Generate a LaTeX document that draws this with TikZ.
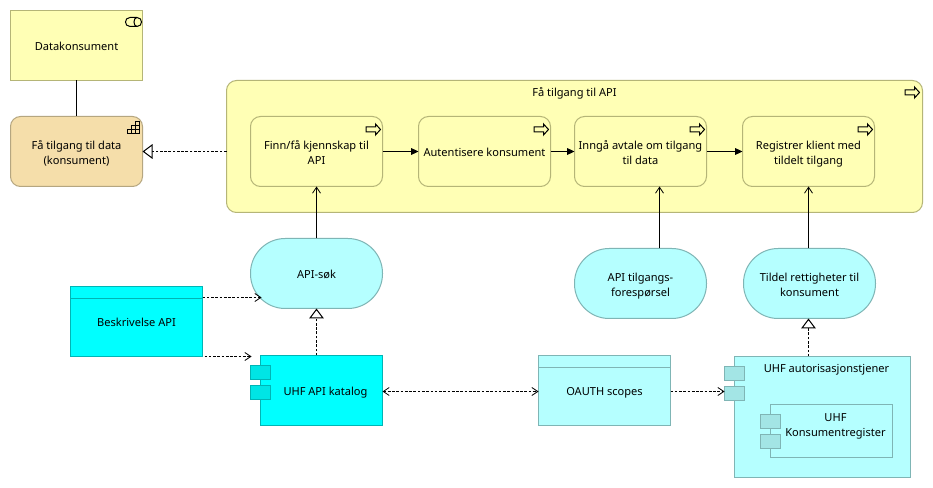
\documentclass[tikz,border=0pt]{standalone}
\usepackage{fontspec}
\setmainfont{Noto Sans}
\usetikzlibrary{arrows.meta,calc}
\definecolor{yf}{HTML}{FFFFB5}
\definecolor{yd}{HTML}{B5B577}
\definecolor{of}{HTML}{F5DEAA}
\definecolor{od}{HTML}{B5A680}
\definecolor{cf}{HTML}{B5FFFF}
\definecolor{cd}{HTML}{7FB5B5}
\definecolor{cp}{HTML}{A3E5E5}
\definecolor{sf}{HTML}{00FFFF}
\definecolor{sd}{HTML}{00B5B5}
\definecolor{sp}{HTML}{00E5E5}
\tikzset{
  x=0.75pt,y=-0.75pt,
  every node/.style={font=\fontsize{8.3pt}{11.25pt}\selectfont,align=center,inner sep=0pt,outer sep=0pt,text height=9pt,text depth=2pt},
  two/.style={text height=21pt},
  sz/.style 2 args={minimum width=#1*0.75pt,minimum height=#2*0.75pt},
  elem/.style={draw,line width=0.75pt,rectangle},
  yel/.style={elem,draw=yd,fill=yf},
  org/.style={elem,draw=od,fill=of},
  cya/.style={elem,draw=cd,fill=cf},
  sat/.style={elem,draw=sd,fill=sf},
  rnd/.style={rounded corners=7.5pt},
  pill/.style={rounded corners=26pt},
  portc/.style={elem,draw=cd,fill=cp,sz={20}{13.5},text height=0pt,text depth=0pt},
  ports/.style={elem,draw=sd,fill=sp,sz={20}{13.5},text height=0pt,text depth=0pt},
  conn/.style={line width=0.75pt,black},
  dep/.style={conn,dash pattern=on 2pt off 1.2pt},
  tri/.style={-{Triangle[open,length=7.5pt,width=11pt,fill=white]}},
  flow/.style={-{Triangle[length=5.5pt,width=5pt]}},
  barb/.style={-{Straight Barb[length=4.5pt,width=6pt,line width=0.6pt]}},
  icon/.style={draw=black,line width=0.75pt,fill=none},
  pics/procicon/.style={code={
    \draw[icon] (0,0) -- (-5,-5.5) -- (-5,-2.5) -- (-14.5,-2.5) -- (-14.5,2.5) -- (-5,2.5) -- (-5,5.5) -- cycle;
  }},
  pics/cylicon/.style={code={
    \draw[icon] (4.5,0) .. controls (-1.5,0) and (-1.5,9) .. (4.5,9) -- (11.5,9)
      .. controls (17.5,9) and (17.5,0) .. (11.5,0) -- cycle;
    \draw[icon] (11.5,0) .. controls (7.5,0) and (7.5,9) .. (11.5,9);
  }},
  pics/capicon/.style={code={
    \draw[icon,line width=0.7pt] (0,0) rectangle (-4,4) (-4,4) rectangle (-8,8) (0,4) rectangle (-4,8)
      (-8,8) rectangle (-12,12) (-4,8) rectangle (-8,12) (0,8) rectangle (-4,12);
  }},
}
\begin{document}
\begin{tikzpicture}
\useasboundingbox (-0.5,-0.5) rectangle (932.5,487.5);
\fill[white] (-0.5,-0.5) rectangle (932.5,487.5);

% top-left
\node[yel,sz={132}{70}] (datak) at (76,45) {Datakonsument};
\node[org,rnd,two,sz={132}{70}] (capab) at (76,151) {Få tilgang til data\\(konsument)};
\pic at ($(datak.north east)+(-17,7)$) {cylicon};
\pic at ($(capab.north east)+(-3,5)$) {capicon};

% large process
\node[yel,rnd,sz={696}{132}] (outer) at (574,146) {};
\node (outert) at (574,91) {Få tilgang til API};
\pic at ($(outer.north east)+(-3,12)$) {procicon};

\node[yel,rnd,two,sz={132}{70}] (finn) at (316,151) {Finn/få kjennskap til\\API};
\node[yel,rnd,sz={132}{70}] (aut) at (484,151) {Autentisere konsument};
\node[yel,rnd,two,sz={132}{70}] (inn) at (640,151) {Inngå avtale om tilgang\\til data};
\node[yel,rnd,two,sz={132}{70}] (reg) at (808,151) {Registrer klient med\\tildelt tilgang};
\foreach \n in {finn,aut,inn,reg} \pic at ($(\n.north east)+(-2,13)$) {procicon};

% services
\node[cya,pill,sz={132}{70}] (sok) at (316,273) {API-søk};
\node[cya,pill,two,sz={132}{70}] (tilg) at (640,283) {API tilgangs-\\forespørsel};
\node[cya,pill,two,sz={132}{70}] (tild) at (809,283) {Tildel rettigheter til\\konsument};

% objects
\node[sat,sz={132}{70}] (bes) at (136,321) {Beskrivelse API};
\draw[draw=sd,line width=0.75pt] ($(bes.north west)+(0,12)$) -- ($(bes.north east)+(0,12)$);
\node[cya,sz={132}{70}] (oauth) at (604,390) {OAUTH scopes};
\draw[draw=cd,line width=0.75pt] ($(oauth.north west)+(0,12)$) -- ($(oauth.north east)+(0,12)$);

% components
\node[sat,sz={122}{70}] (kat) at (321,390.5) {};
\node (katt) at (325,390.5) {UHF API katalog};
\node[ports] (katp1) at (260,372) {};
\node[ports] (katp2) at (260,392) {};

\node[cya,sz={176}{121}] (auth) at (822,416.5) {};
\node (autht) at (826,367.5) {UHF autorisasjonstjener};
\node[portc] (authp1) at (734,373) {};
\node[portc] (authp2) at (734,393) {};

\node[elem,draw=cd,fill=cf,sz={122}{53}] (kreg) at (831,430.5) {};
\node[two] (kregt) at (835,423) {UHF\\Konsumentregister};
\node[portc] (kregp1) at (770,421) {};
\node[portc] (kregp2) at (770,441) {};

% helper coordinates
\coordinate (inn1) at (659,248);
\coordinate (inn2) at (659,186);
\coordinate (reg1) at (808,248);
\coordinate (reg2) at (808,186);
\coordinate (bs1) at (202,297);
\coordinate (bs2) at (261,297);
\coordinate (bk1) at (204,356);
\coordinate (bk2) at (251,356);
\coordinate (ka1) at (316,355);
\coordinate (au1) at (808,356);
\coordinate (au2) at (808,318);
\coordinate (ko1) at (382,391);
\coordinate (ko2) at (538,391);
\coordinate (oa1) at (670,391);
\coordinate (oa2) at (724,391);

% connectors
\draw[conn] (datak.south) -- (capab.north);
\draw[dep,tri] (outer.west |- capab.east) -- (capab.east);
\draw[conn,flow] (finn.east) -- (aut.west);
\draw[conn,flow] (aut.east) -- (inn.west);
\draw[conn,flow] (inn.east) -- (reg.west);
\draw[conn,barb] (sok.north) -- (finn.south);
\draw[conn,barb] (tilg.north -| inn1) -- (inn2);
\draw[conn,barb] (reg1) -- (reg2);
\draw[dep,barb] (bs1) -- (bs2);
\draw[dep,barb] (bk1) -- (bk2);
\draw[dep,tri] (ka1) -- (sok.south);
\draw[dep,{Straight Barb[length=4.5pt,width=6pt,line width=0.6pt]}-{Straight Barb[length=4.5pt,width=6pt,line width=0.6pt]}] (ko1) -- (ko2);
\draw[dep,barb] (oa1) -- (oa2);
\draw[dep,tri] (au1) -- (au2);
\end{tikzpicture}
\end{document}
